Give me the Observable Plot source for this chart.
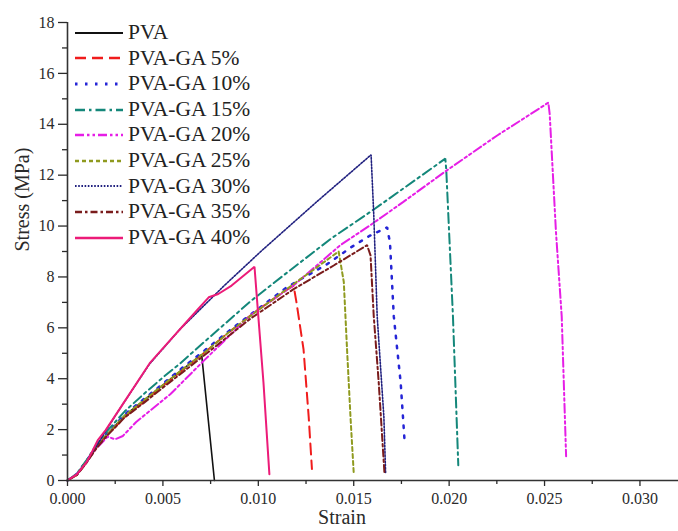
<!DOCTYPE html>
<html><head><meta charset="utf-8">
<script src="https://cdn.jsdelivr.net/npm/d3@7"></script>
<script src="https://cdn.jsdelivr.net/npm/@observablehq/plot@0.6"></script>
<style>
body{margin:0;background:#fff;}
#wrap{position:relative;width:678px;height:531px;overflow:hidden;}
#chart text{font-family:"Times New Roman","Liberation Serif","DejaVu Serif",serif !important;}
#legend{position:absolute;left:75px;top:20px;font-family:"Liberation Serif",serif;font-size:21.5px;color:#222;}
.row{display:flex;align-items:center;height:25.6px;line-height:25.6px;white-space:nowrap;}
.row svg{display:block;margin-right:5px;}
</style></head><body>
<div id="wrap"><div id="chart"></div><div id="legend"></div></div>
<script>
// ---- data ----
const seriesNames = ["PVA","PVA-GA 5%","PVA-GA 10%","PVA-GA 15%","PVA-GA 20%","PVA-GA 25%","PVA-GA 30%","PVA-GA 35%","PVA-GA 40%"];

const strainPVA = [0,0.0005,0.001,0.0015,0.002,0.003,0.004,0.005,0.006,0.00703,0.0077];
const stressPVA = [0,0.25,0.75,1.3,1.75,2.55,3.15,3.75,4.35,4.95,0];

const strainGA5 = [0,0.0005,0.001,0.0015,0.002,0.003,0.004,0.005,0.006,0.007,0.0085,0.01,0.0115,0.01185,0.012,0.01237,0.01264,0.01281];
const stressGA5 = [0,0.22,0.72,1.28,1.72,2.5,3.1,3.72,4.32,4.92,5.85,6.72,7.5,7.65,7.0,5.15,2.5,0.45];

const strainGA10 = [0,0.0005,0.001,0.0015,0.002,0.003,0.004,0.005,0.006,0.007,0.0085,0.01,0.0115,0.0136,0.01483,0.0158,0.01675,0.0169,0.0171,0.01746,0.01767];
const stressGA10 = [0,0.26,0.78,1.32,1.78,2.6,3.2,3.8,4.42,5.0,5.9,6.75,7.6,8.5,9.15,9.6,9.95,9.35,6.45,3.85,1.5];

const strainGA15 = [0,0.0005,0.001,0.0015,0.002,0.003,0.004,0.005,0.0059,0.0071,0.0096,0.0113,0.0138,0.01605,0.0198,0.01985,0.0202,0.02048];
const stressGA15 = [0,0.28,0.8,1.38,1.88,2.72,3.4,4.05,4.6,5.4,7.05,8.05,9.5,10.65,12.65,12.2,6.45,0.6];

const strainGA20 = [0,0.0005,0.001,0.0015,0.0021,0.0025,0.0029,0.0036,0.0054,0.0072,0.0096,0.0119,0.0143,0.0159,0.0176,0.0199,0.0225,0.0252,0.02527,0.0256,0.0259,0.02613];
const stressGA20 = [0,0.25,0.72,1.25,1.72,1.62,1.75,2.3,3.4,4.75,6.5,7.7,9.25,10.05,10.95,12.2,13.55,14.85,14.4,9.75,6.45,0.95];

const strainGA25 = [0,0.0005,0.001,0.0015,0.002,0.003,0.004,0.005,0.006,0.007,0.0085,0.01,0.012,0.01421,0.01448,0.01465,0.01483,0.015];
const stressGA25 = [0,0.24,0.74,1.3,1.75,2.55,3.15,3.75,4.35,4.92,5.85,6.7,7.8,9.0,7.8,5.15,2.5,0.3];

const strainGA30 = [0,0.0005,0.001,0.0014,0.002,0.0029,0.0043,0.0059,0.0082,0.0101,0.0131,0.01591,0.01605,0.01623,0.01658,0.01667];
const stressGA30 = [0,0.25,0.72,1.2,1.95,3.0,4.58,5.95,7.65,8.98,10.98,12.8,10.45,6.45,2.5,0.3];

const strainGA35 = [0,0.0005,0.001,0.0015,0.002,0.003,0.004,0.005,0.007,0.00957,0.01185,0.01395,0.0157,0.01588,0.01605,0.01631,0.01661];
const stressGA35 = [0,0.22,0.7,1.25,1.7,2.48,3.05,3.65,4.82,6.35,7.52,8.45,9.25,8.85,6.45,3.85,0.3];

const strainGA40 = [0,0.0005,0.001,0.0013,0.0016,0.002,0.0029,0.0043,0.0053,0.0062,0.0068,0.0074,0.0079,0.0086,0.0098,0.01,0.01027,0.01058];
const stressGA40 = [0,0.25,0.72,1.15,1.6,1.98,3.0,4.6,5.45,6.2,6.7,7.2,7.33,7.66,8.4,6.45,3.85,0.25];

const xMajorTicks = [0,0.005,0.010,0.015,0.020,0.025,0.030];
const xMinorTicks = [0.0025,0.0075,0.0125,0.0175,0.0225,0.0275];
const yMajorTicks = [0,2,4,6,8,10,12,14,16,18];
const yMinorTicks = [1,3,5,7,9,11,13,15,17];
const xTitle = "Strain";
const yTitle = "Stress (MPa)";

// ---- styles ----
const serif = "Times New Roman, Liberation Serif, DejaVu Serif, serif";
const strainArrays = [strainPVA,strainGA5,strainGA10,strainGA15,strainGA20,strainGA25,strainGA30,strainGA35,strainGA40];
const stressArrays = [stressPVA,stressGA5,stressGA10,stressGA15,stressGA20,stressGA25,stressGA30,stressGA35,stressGA40];
const colors = ["#111111","#f01c1c","#2525d6","#14877a","#e61ee6","#8f9a1f","#20207f","#7a1c1c","#ec1b78"];
const dashes = [null,"11,6","2.5,7.5","10,4,2.5,4","9,3,2.5,3,2.5,3","4,3","1.6,1.6","7,3,2.5,3",null];
const widths = [1.6,2,2.5,2,2,2,1.6,2,2];

const table = [];
seriesNames.forEach((name,i)=>{
  strainArrays[i].forEach((s,j)=>table.push({series:name, strain:s, stress:stressArrays[i][j]}));
});

const lineMarks = seriesNames.map((name,i)=>Plot.line(table.filter(d=>d.series===name),{
  x:"strain", y:"stress", stroke:colors[i], strokeWidth:widths[i],
  strokeDasharray: dashes[i] || undefined, strokeLinejoin:"miter"
}));

const chart = Plot.plot({
  width:678, height:531,
  marginLeft:67, marginRight:0, marginTop:22, marginBottom:51,
  style:{fontSize:"16px", color:"#2a2a2a", background:"#fff", fontFamily:serif},
  x:{domain:[0,0.03202]},
  y:{domain:[0,18]},
  marks:[
    ...lineMarks,
    Plot.ruleY([0],{stroke:"#333",strokeWidth:1.6}),
    Plot.ruleX([0],{stroke:"#333",strokeWidth:1.6}),
    Plot.axisX(xMajorTicks,{tickFormat:d3.format(".3f"),tickSize:6,tickPadding:6,fontSize:16,label:null,strokeWidth:1.3,fontFamily:serif}),
    Plot.axisX(xMinorTicks,{tickFormat:()=>"",tickSize:4,label:null,strokeWidth:1.3}),
    Plot.axisY(yMajorTicks,{tickSize:9,tickPadding:4,fontSize:16,label:null,strokeWidth:1.3,fontFamily:serif}),
    Plot.axisY(yMinorTicks,{tickFormat:()=>"",tickSize:5,label:null,strokeWidth:1.3}),
    Plot.text([xTitle],{text:d=>d,frameAnchor:"bottom",dx:-31,dy:43,fontSize:20,fontFamily:serif}),
    Plot.text([yTitle],{text:d=>d,frameAnchor:"left",rotate:-90,dx:-45,dy:0,fontSize:20,fontFamily:serif})
  ]
});
chart.setAttribute("font-family", serif);
chart.querySelectorAll("g, text").forEach(el => el.setAttribute("font-family", serif));
document.getElementById("chart").appendChild(chart);

// ---- legend ----
const legend = document.getElementById("legend");
seriesNames.forEach((name,i)=>{
  const row = document.createElement("div");
  row.className = "row";
  const svg = d3.create("svg").attr("width",48).attr("height",10);
  svg.append("line").attr("x1",0).attr("x2",48).attr("y1",5).attr("y2",5)
    .attr("stroke",colors[i]).attr("stroke-width",widths[i]+0.4)
    .attr("stroke-dasharray",dashes[i]);
  row.appendChild(svg.node());
  const span = document.createElement("span");
  span.textContent = name;
  row.appendChild(span);
  legend.appendChild(row);
});
</script>
</body></html>
